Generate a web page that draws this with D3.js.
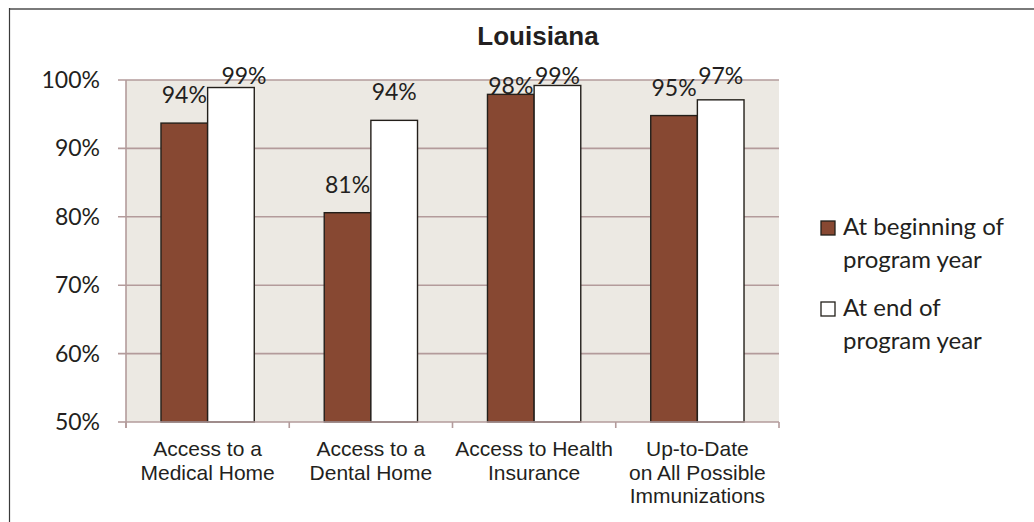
<!DOCTYPE html>
<html>
<head>
<meta charset="utf-8">
<title>Louisiana</title>
<script src="https://d3js.org/d3.v7.min.js"></script>
<style>
  body { margin: 0; background: #fff; }
  .lbl { font-family: Lato, "Open Sans", sans-serif; font-size: 23px; fill: #231f20; }
  .leg { font-family: Lato, "Open Sans", sans-serif; font-size: 24px; fill: #231f20; }
  .cat { font-family: "Liberation Sans", Arial, sans-serif; font-size: 21px; fill: #231f20; }
  .title { font-family: "Liberation Sans", Arial, sans-serif; font-size: 26px; font-weight: bold; fill: #231f20; }
</style>
</head>
<body>
<div id="chart"></div>
<script>
// data
var categories = [
  ["Access to a", "Medical Home"],
  ["Access to a", "Dental Home"],
  ["Access to Health", "Insurance"],
  ["Up-to-Date", "on All Possible", "Immunizations"]
];
var seriesNames = ["At beginning of program year", "At end of program year"];
var beginValues = [0.937, 0.806, 0.979, 0.948];
var endValues = [0.989, 0.941, 0.992, 0.971];
var yTicks = [0.5, 0.6, 0.7, 0.8, 0.9, 1.0];

var width = 1034, height = 522;
var plot = { left: 126, right: 779, top: 80, bottom: 422 };
var brown = "#874832", dark = "#231f1a", grid = "#b39b9b", bg = "#ece9e3";

var svg = d3.select("#chart").append("svg")
    .attr("width", width)
    .attr("height", height);

// outer frame (only top and left edges show)
svg.append("line").attr("x1", 9).attr("x2", width).attr("y1", 9).attr("y2", 9)
    .attr("stroke", "#7a7a7a").attr("stroke-width", 2);
svg.append("line").attr("x1", 9.5).attr("x2", 9.5).attr("y1", 8).attr("y2", height)
    .attr("stroke", "#3a3a3a").attr("stroke-width", 1.2);

svg.append("text").attr("class", "title")
    .attr("x", 538).attr("y", 45)
    .attr("text-anchor", "middle")
    .text("Louisiana");

var idx = categories.map(function(d, i) { return i; });
var x0 = d3.scaleBand().domain(idx).range([plot.left, plot.right]);
var x1 = d3.scaleBand().domain([0, 1]).range([0, x0.bandwidth()])
    .paddingInner(0).paddingOuter(0.75);
var y = d3.scaleLinear().domain([0.5, 1]).range([plot.bottom, plot.top]);

// plot background
svg.append("rect")
    .attr("x", plot.left).attr("y", plot.top)
    .attr("width", plot.right - plot.left).attr("height", plot.bottom - plot.top)
    .attr("fill", bg);

// gridlines
svg.selectAll(".grid").data(yTicks.slice(1)).enter().append("line")
    .attr("x1", plot.left - 8).attr("x2", plot.right)
    .attr("y1", function(d) { return y(d); }).attr("y2", function(d) { return y(d); })
    .attr("stroke", grid).attr("stroke-width", 1.6);

// y axis
svg.append("line").attr("x1", plot.left).attr("x2", plot.left)
    .attr("y1", plot.top).attr("y2", plot.bottom + 6)
    .attr("stroke", grid).attr("stroke-width", 1.6);
svg.append("line").attr("x1", plot.left - 8).attr("x2", plot.left)
    .attr("y1", y(0.5)).attr("y2", y(0.5))
    .attr("stroke", grid).attr("stroke-width", 1.6);
svg.selectAll(".ytick").data(yTicks).enter().append("text")
    .attr("class", "lbl")
    .attr("x", 100).attr("y", function(d) { return y(d) + 8; })
    .attr("text-anchor", "end")
    .text(d3.format(".0%"));

// bars
var rows = [];
idx.forEach(function(i) {
  rows.push({ c: i, s: 0, v: beginValues[i] });
  rows.push({ c: i, s: 1, v: endValues[i] });
});

svg.selectAll(".bar").data(rows).enter().append("rect")
    .attr("x", function(d) { return x0(d.c) + x1(d.s); })
    .attr("y", function(d) { return y(d.v); })
    .attr("width", x1.bandwidth())
    .attr("height", function(d) { return y(0.5) - y(d.v); })
    .attr("fill", function(d) { return d.s === 0 ? brown : "#fff"; })
    .attr("stroke", dark).attr("stroke-width", 1.4);

// x axis line + ticks at category boundaries
svg.append("line").attr("x1", plot.left).attr("x2", plot.right)
    .attr("y1", plot.bottom).attr("y2", plot.bottom)
    .attr("stroke", grid).attr("stroke-width", 1.6);
var bounds = idx.map(function(i) { return x0(i); }).concat([plot.right]);
svg.selectAll(".xtick").data(bounds).enter().append("line")
    .attr("x1", function(d) { return d; }).attr("x2", function(d) { return d; })
    .attr("y1", plot.bottom).attr("y2", plot.bottom + 6)
    .attr("stroke", grid).attr("stroke-width", 1.6);

// data labels (Excel nudged a couple to avoid overlap)
var nudge = { "0-1": [13, 0], "2-0": [0, 10] };
svg.selectAll(".val").data(rows).enter().append("text")
    .attr("class", "lbl")
    .attr("x", function(d) {
      var n = nudge[d.c + "-" + d.s] || [0, 0];
      return x0(d.c) + x1(d.s) + x1.bandwidth() / 2 + n[0];
    })
    .attr("y", function(d) {
      var n = nudge[d.c + "-" + d.s] || [0, 0];
      return Math.max(y(d.v) - 20, 84) + n[1];
    })
    .attr("text-anchor", "middle")
    .text(function(d) { return d3.format(".0%")(d.v); });

// category labels
var cat = svg.selectAll(".cat").data(categories).enter().append("text")
    .attr("class", "cat")
    .attr("text-anchor", "middle");
cat.selectAll("tspan").data(function(d, i) {
      return d.map(function(t) { return { t: t, i: i }; });
    })
    .enter().append("tspan")
    .attr("x", function(d) { return x0(d.i) + x0.bandwidth() / 2; })
    .attr("y", function(d, j) { return 456 + j * 23.5; })
    .text(function(d) { return d.t; });

// legend
var legendLines = [["At beginning of", "program year"], ["At end of", "program year"]];
var lg = svg.selectAll(".legitem").data(seriesNames).enter().append("g")
    .attr("transform", function(d, i) { return "translate(821," + (221 + i * 81) + ")"; });
lg.append("rect")
    .attr("width", 14).attr("height", 14)
    .attr("fill", function(d, i) { return i === 0 ? brown : "#fff"; })
    .attr("stroke", dark).attr("stroke-width", 1.3);
lg.append("text").attr("class", "leg")
    .selectAll("tspan").data(function(d, i) { return legendLines[i]; })
    .enter().append("tspan")
    .attr("x", 22)
    .attr("y", function(d, j) { return 14 + j * 33; })
    .text(function(d) { return d; });
</script>
</body>
</html>
